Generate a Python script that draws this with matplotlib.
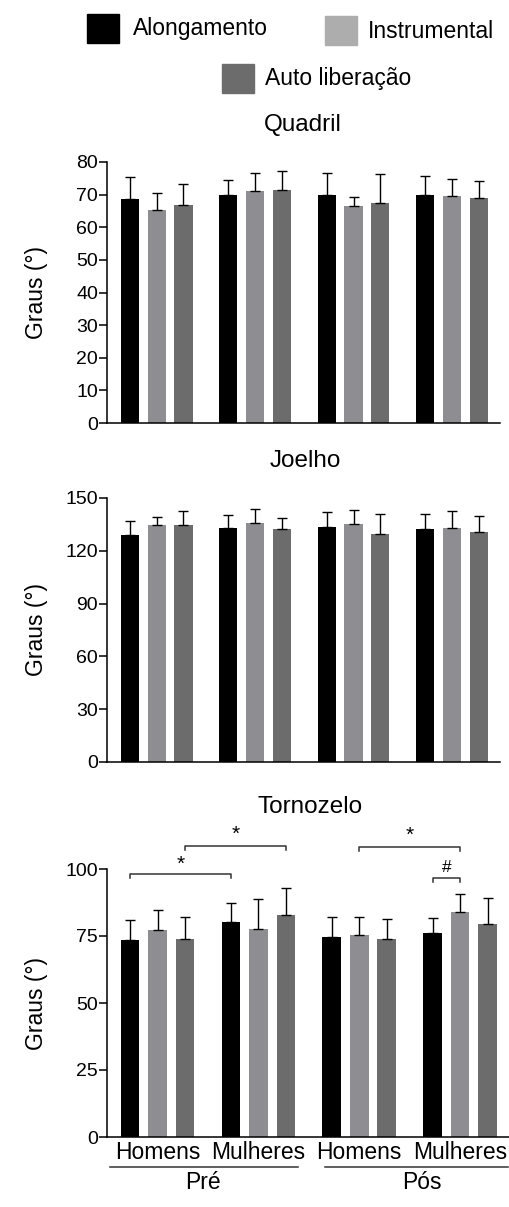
import numpy as np
import matplotlib.pyplot as plt
from matplotlib.patches import Rectangle
from matplotlib.transforms import blended_transform_factory

plt.rcParams['font.family'] = ['Liberation Sans', 'DejaVu Sans']

series = ['Alongamento', 'Instrumental', 'Auto liberação']
grupos = ['Homens', 'Mulheres', 'Homens', 'Mulheres']
momentos = ['Pré', 'Pós']

# medias e desvios (so para cima), ordem: grupo x serie
quadril_media = [[68.6, 65.3, 66.9], [69.8, 71.0, 71.4], [69.9, 66.6, 67.4], [69.8, 69.6, 68.9]]
quadril_dp = [[6.7, 5.2, 6.3], [4.7, 5.7, 5.9], [6.8, 2.6, 9.0], [5.9, 5.2, 5.4]]
joelho_media = [[128.9, 134.6, 134.4], [132.7, 135.8, 132.5], [133.5, 135.2, 129.7], [132.3, 133.1, 130.6]]
joelho_dp = [[8.0, 4.6, 8.2], [7.4, 7.9, 6.1], [8.3, 8.1, 11.2], [8.8, 9.3, 9.3]]
tornozelo_media = [[73.6, 77.3, 74.0], [80.1, 77.6, 82.8], [74.6, 75.3, 73.8], [76.2, 83.9, 79.3]]
tornozelo_dp = [[7.5, 7.3, 8.1], [7.3, 11.2, 10.2], [7.6, 6.8, 7.5], [5.5, 6.8, 9.9]]

cores = ['#000000', '#8e8e92', '#6c6c6c']
cores_leg = ['#000000', '#adadad', '#6c6c6c']

passo_grupo = 3.67
largura = 0.68

fig = plt.figure(figsize=(5.09, 12.07), dpi=100)
W, H = 509, 1207

def eixo(x0, x1, ytop, ybot):
    return fig.add_axes([x0 / W, 1 - ybot / H, (x1 - x0) / W, (ybot - ytop) / H])

def barras(ax, media, dp, ymax, ticks):
    media = np.array(media)
    dp = np.array(dp)
    for j in range(3):
        xs = np.arange(4) * passo_grupo + j
        ax.bar(xs, media[:, j], width=largura, color=cores[j], zorder=2)
        ax.errorbar(xs, media[:, j], yerr=[np.zeros(4), dp[:, j]], fmt='none',
                    ecolor='black', elinewidth=1.0, capsize=3.4, capthick=1.0, zorder=3)
    ax.set_ylim(0, ymax)
    ax.set_xlim(-0.85, 13.8)
    ax.set_yticks(ticks)
    ax.spines['top'].set_visible(False)
    ax.spines['right'].set_visible(False)
    ax.spines['left'].set_linewidth(1.1)
    ax.spines['bottom'].set_linewidth(1.1)
    ax.set_xticks([])
    ax.tick_params(axis='y', length=5.5, width=1.1, labelsize=14, pad=1)

ax1 = eixo(107, 500, 162, 423)
barras(ax1, quadril_media, quadril_dp, 80, range(0, 81, 10))
ax2 = eixo(107, 500, 498, 762)
barras(ax2, joelho_media, joelho_dp, 150, range(0, 151, 30))
ax3 = eixo(107, 509, 869, 1137)
barras(ax3, tornozelo_media, tornozelo_dp, 100, range(0, 101, 25))
ax3.set_xlim(-0.84, 13.79)

fig.text(303 / W, 1 - 125 / H, 'Quadril', ha='center', va='center', fontsize=17.5)
fig.text(305 / W, 1 - 461 / H, 'Joelho', ha='center', va='center', fontsize=17.5)
fig.text(310 / W, 1 - 807 / H, 'Tornozelo', ha='center', va='center', fontsize=17.5)

for ytop, ybot in [(162, 423), (498, 762), (869, 1137)]:
    fig.text(37 / W, 1 - (ytop + ybot) / 2 / H, 'Graus (°)', rotation=90,
             ha='center', va='center', fontsize=16.5)

# legenda
leg = [(87, 14, 133, 29), (325, 16, 368, 31), (222, 64, 265, 78)]
for (bx, by, tx, ty), nome, c in zip(leg, series, cores_leg):
    fig.patches.append(Rectangle((bx / W, 1 - (by + 29) / H), 32 / W, 29 / H,
                                 color=c, transform=fig.transFigure, figure=fig))
    fig.text(tx / W, 1 - ty / H, nome, ha='left', va='center', fontsize=16.5)

# rotulos do eixo x
trans = blended_transform_factory(ax3.transData, ax3.transAxes)
for g, nome in enumerate(grupos):
    ax3.text(g * passo_grupo + 1, -0.056, nome, transform=trans, ha='center',
             va='center', fontsize=16.5, clip_on=False)
for (x0, x1, xc), nome in zip([(-0.73, 6.11, 2.66), (7.09, 13.75, 10.62)], momentos):
    ax3.plot([x0, x1], [-0.112, -0.112], transform=trans, color='#333333',
             lw=1.1, clip_on=False)
    ax3.text(xc, -0.168, nome, transform=trans, ha='center', va='center',
             fontsize=16.5, clip_on=False)

# comparacoes
def chave(ax, xa, xb, y, desce, txt, ytxt, tam):
    ax.plot([xa, xa, xb, xb], [y - desce, y, y, y - desce], color='#333333',
            lw=1.1, clip_on=False)
    ax.text((xa + xb) / 2, ytxt, txt, ha='center', va='center', fontsize=tam,
            clip_on=False)

chave(ax3, 0, passo_grupo, 98.1, 1.3, '*', 101.8, 15)
chave(ax3, 2, passo_grupo + 2, 108.6, 1.4, '*', 112.8, 15)
chave(ax3, 2 * passo_grupo + 1, 3 * passo_grupo + 1, 108.3, 1.4, '*', 112.5, 15)
chave(ax3, 3 * passo_grupo, 3 * passo_grupo + 1, 96.5, 1.5, '#', 100.6, 12.5)

fig.savefig('out.png', dpi=100)
